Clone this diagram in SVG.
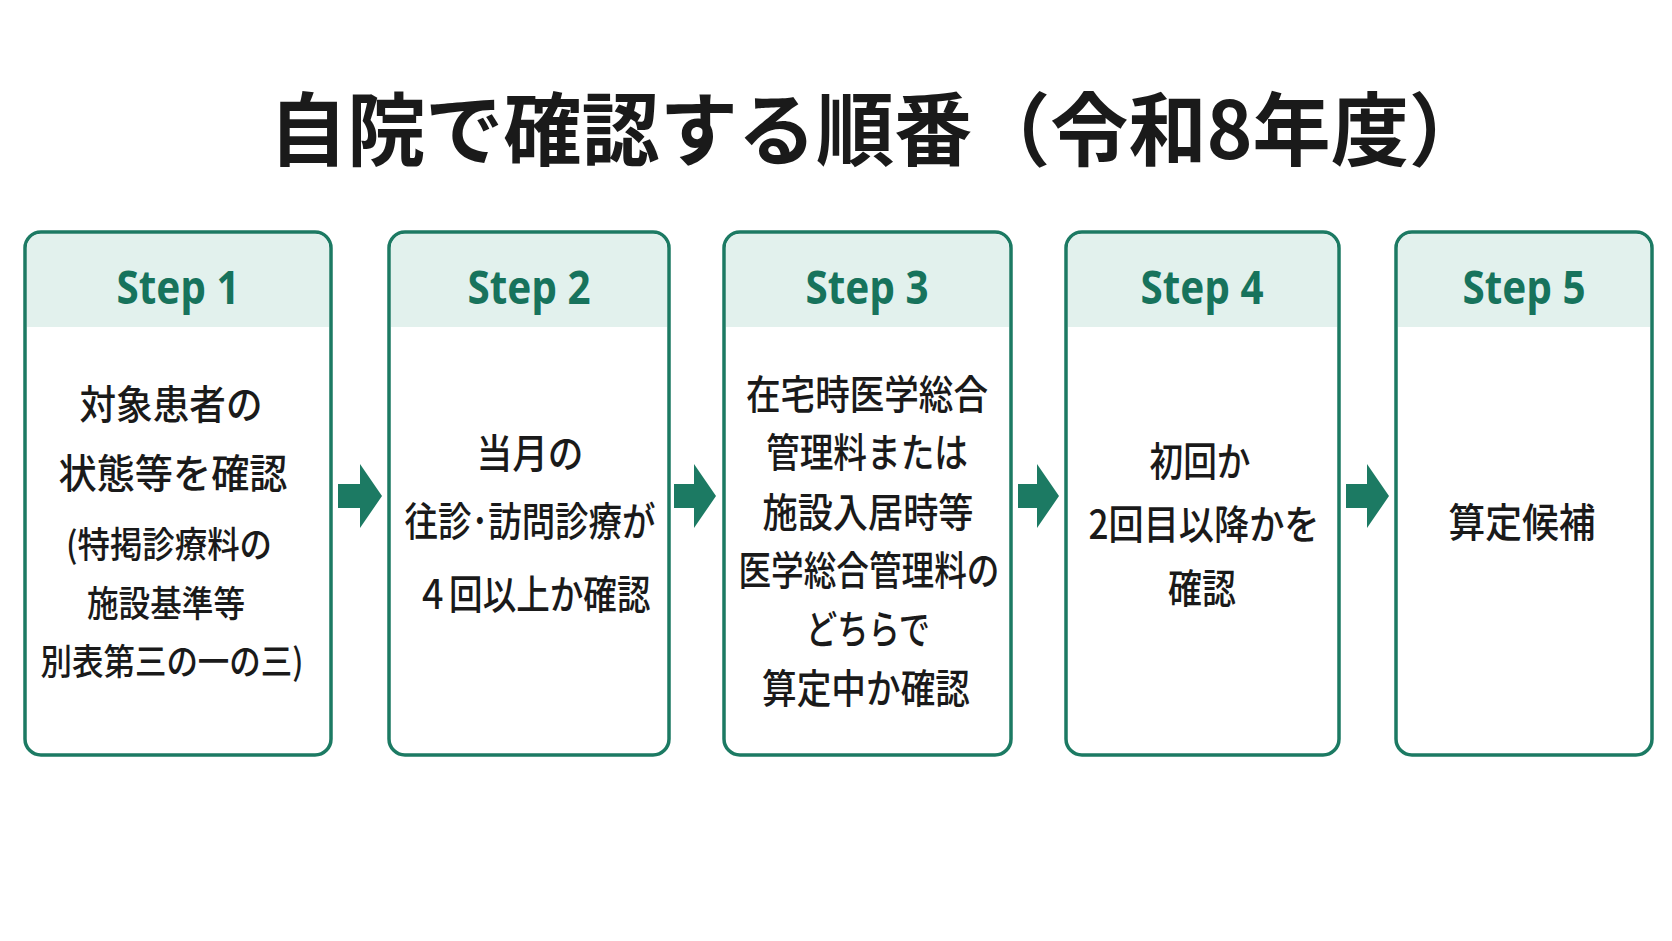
<svg xmlns="http://www.w3.org/2000/svg" width="1672" height="941" viewBox="0 0 1672 941">
<style>
.box{fill:#fff;stroke:#1c7a63;stroke-width:3.5}
.hd{fill:#e2f1ed}
.st{font-family:"Noto Sans","Noto Sans CJK JP",sans-serif;font-weight:700;font-size:47px;fill:#17735c;text-anchor:middle;dominant-baseline:central}
.tx{font-family:"Noto Sans CJK JP",sans-serif;font-weight:500;font-size:40px;fill:#1a1a1a;text-anchor:middle;dominant-baseline:central}
.sm{font-size:36px}
.ar{fill:#1c7a63}
</style>
<rect width="1672" height="941" fill="#fff"/>
<text x="878" y="124" textLength="1218" lengthAdjust="spacingAndGlyphs" font-family="'Noto Sans CJK JP',sans-serif" font-weight="700" font-size="80" fill="#1a1a1a" text-anchor="middle" dominant-baseline="central">自院で確認する順番（令和8年度）</text>
<g id="connectors">
<path class="ar" d="M338 484h22v-20l22 32-22 32v-20h-22z"/>
<path class="ar" d="M674 484h20v-20l22 32-22 32v-20h-20z"/>
<path class="ar" d="M1018 484h19v-20l22 32-22 32v-20h-19z"/>
<path class="ar" d="M1346 484h21v-20l22 32-22 32v-20h-21z"/>
</g>
<g id="step1">
<rect class="box" x="25" y="232" width="306" height="523" rx="16"/>
<path class="hd" d="M27 327V248a14 14 0 0 1 14-14h274a14 14 0 0 1 14 14v79z"/>
<text class="st" x="178" y="286" textLength="123" lengthAdjust="spacingAndGlyphs">Step 1</text>
<text class="tx" x="171" y="402" textLength="183" lengthAdjust="spacingAndGlyphs">対象患者の</text>
<text class="tx" x="173" y="471" textLength="229" lengthAdjust="spacingAndGlyphs">状態等を確認</text>
<text class="tx sm" x="169" y="542" textLength="206" lengthAdjust="spacingAndGlyphs">(特掲診療料の</text>
<text class="tx sm" x="166" y="601" textLength="158" lengthAdjust="spacingAndGlyphs">施設基準等</text>
<text class="tx sm" x="172" y="659" textLength="263" lengthAdjust="spacingAndGlyphs">別表第三の一の三)</text>
</g>
<g id="step2">
<rect class="box" x="389" y="232" width="280" height="523" rx="16"/>
<path class="hd" d="M391 327V248a14 14 0 0 1 14-14h248a14 14 0 0 1 14 14v79z"/>
<text class="st" x="529" y="286" textLength="123" lengthAdjust="spacingAndGlyphs">Step 2</text>
<text class="tx" x="530" y="451" textLength="107" lengthAdjust="spacingAndGlyphs">当月の</text>
<text class="tx" x="530" y="519" textLength="251" lengthAdjust="spacingAndGlyphs">往診･訪問診療が</text>
<text class="tx" x="533" y="592" textLength="235" lengthAdjust="spacingAndGlyphs">４回以上か確認</text>
</g>
<g id="step3">
<rect class="box" x="724" y="232" width="287" height="523" rx="16"/>
<path class="hd" d="M726 327V248a14 14 0 0 1 14-14h255a14 14 0 0 1 14 14v79z"/>
<text class="st" x="867" y="286" textLength="123" lengthAdjust="spacingAndGlyphs">Step 3</text>
<text class="tx" x="867" y="392" textLength="242" lengthAdjust="spacingAndGlyphs">在宅時医学総合</text>
<text class="tx" x="867" y="450" textLength="202" lengthAdjust="spacingAndGlyphs">管理料または</text>
<text class="tx" x="868" y="510" textLength="211" lengthAdjust="spacingAndGlyphs">施設入居時等</text>
<text class="tx" x="869" y="568" textLength="261" lengthAdjust="spacingAndGlyphs">医学総合管理料の</text>
<text class="tx" x="868" y="627" textLength="124" lengthAdjust="spacingAndGlyphs">どちらで</text>
<text class="tx" x="866" y="686" textLength="208" lengthAdjust="spacingAndGlyphs">算定中か確認</text>
</g>
<g id="step4">
<rect class="box" x="1066" y="232" width="273" height="523" rx="16"/>
<path class="hd" d="M1068 327V248a14 14 0 0 1 14-14h241a14 14 0 0 1 14 14v79z"/>
<text class="st" x="1202" y="286" textLength="123" lengthAdjust="spacingAndGlyphs">Step 4</text>
<text class="tx" x="1200" y="459" textLength="101" lengthAdjust="spacingAndGlyphs">初回か</text>
<text class="tx" x="1204" y="522" textLength="231" lengthAdjust="spacingAndGlyphs">2回目以降かを</text>
<text class="tx" x="1202" y="586" textLength="68" lengthAdjust="spacingAndGlyphs">確認</text>
</g>
<g id="step5">
<rect class="box" x="1396" y="232" width="256" height="523" rx="16"/>
<path class="hd" d="M1398 327V248a14 14 0 0 1 14-14h224a14 14 0 0 1 14 14v79z"/>
<text class="st" x="1524" y="286" textLength="123" lengthAdjust="spacingAndGlyphs">Step 5</text>
<text class="tx" x="1522" y="520" textLength="147" lengthAdjust="spacingAndGlyphs">算定候補</text>
</g>
</svg>
